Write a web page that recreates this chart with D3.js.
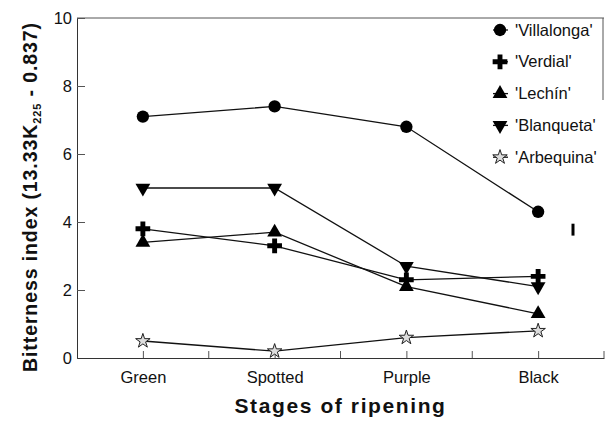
<!DOCTYPE html>
<html>
<head>
<meta charset="utf-8">
<script src="https://cdn.jsdelivr.net/npm/d3@7"></script>
<style>
  body { margin: 0; background: #fff; }
  svg { display: block; font-family: "Liberation Sans", Arial, sans-serif; }
</style>
</head>
<body>
<svg id="chart" width="605" height="423"></svg>
<script>
// Bitterness index by ripening stage
const stages = ['Green', 'Spotted', 'Purple', 'Black'];
const varieties = ["'Villalonga'", "'Verdial'", "'Lechín'", "'Blanqueta'", "'Arbequina'"];
const villalonga = [7.1, 7.4, 6.8, 4.3];
const verdial    = [3.8, 3.3, 2.3, 2.4];
const lechin     = [3.4, 3.7, 2.1, 1.3];
const blanqueta  = [5.0, 5.0, 2.7, 2.1];
const arbequina  = [0.5, 0.2, 0.6, 0.8];
const yTicks = [0, 2, 4, 6, 8, 10];
const lsdBar = [3.6, 3.95]; // error bar shown at right

(function() {
  const series = [villalonga, verdial, lechin, blanqueta, arbequina];
  const svg = d3.select('#chart');
  const L = 77, R = 604, T = 18, B = 358;

  const x = d3.scalePoint().domain(stages).range([L, R]).padding(0.5);
  const y = d3.scaleLinear().domain([0, 10]).range([B, T]);

  // frame bits
  svg.append('line').attr('x1', L).attr('x2', R).attr('y1', T).attr('y2', T)
    .attr('stroke', '#555').attr('stroke-width', 1);
  svg.append('line').attr('x1', R - 1).attr('x2', R - 1).attr('y1', T).attr('y2', 100)
    .attr('stroke', '#555').attr('stroke-width', 1);

  // axes
  const ya = svg.append('g').attr('transform', `translate(${L},0)`)
    .call(d3.axisLeft(y).tickValues(yTicks).tickSize(-8).tickPadding(5));
  ya.select('.domain').attr('stroke', '#333');
  ya.selectAll('.tick line').attr('stroke', '#555');
  ya.selectAll('text').attr('font-size', 16.5).attr('fill', '#111')
    .attr('font-family', '"Liberation Sans", Arial, sans-serif');

  const xa = svg.append('g').attr('transform', `translate(0,${B})`)
    .call(d3.axisBottom(x).tickSize(-7).tickPadding(13).tickSizeOuter(0));
  xa.select('.domain').attr('stroke', '#333');
  xa.selectAll('.tick line').attr('stroke', '#555');
  xa.selectAll('text').attr('font-size', 16.5).attr('fill', '#111')
    .attr('font-family', '"Liberation Sans", Arial, sans-serif');
  // boundary ticks between stages
  const half = x.step() / 2;
  svg.append('g').selectAll('line').data(stages).join('line')
    .attr('x1', d => x(d) + half).attr('x2', d => x(d) + half)
    .attr('y1', B).attr('y2', B - 7).attr('stroke', '#555');

  // titles
  svg.append('text').attr('x', (L + R) / 2).attr('y', 413).attr('text-anchor', 'middle')
    .attr('font-size', 21).attr('font-weight', 'bold').attr('letter-spacing', 1.6)
    .attr('fill', '#111').text('Stages of ripening');
  const yt = svg.append('text').attr('transform', `translate(37,197) rotate(-90)`)
    .attr('text-anchor', 'middle').attr('font-size', 19.5).attr('font-weight', 'bold')
    .attr('letter-spacing', 0.9).attr('fill', '#111');
  yt.append('tspan').text('Bitterness index (13.33K');
  yt.append('tspan').attr('font-size', 11).attr('dy', 4).text('225');
  yt.append('tspan').attr('dy', -4).text(' - 0.837)');

  // markers
  const sym = [
    { t: d3.symbolCircle, s: 120, rot: 0, fill: '#000' },
    { t: d3.symbolCross, s: 120, rot: 0, fill: '#000' },
    { t: d3.symbolTriangle, s: 95, rot: 0, fill: '#000' },
    { t: d3.symbolTriangle, s: 95, rot: 180, fill: '#000' },
    { t: d3.symbolStar, s: 65, rot: 0, fill: '#ddd' }
  ];
  const line = d3.line().x((d, i) => x(stages[i])).y(d => y(d));

  series.forEach((vals, k) => {
    svg.append('path').attr('d', line(vals)).attr('fill', 'none')
      .attr('stroke', '#111').attr('stroke-width', 1.3);
  });
  series.forEach((vals, k) => {
    const m = sym[k];
    svg.append('g').selectAll('path').data(vals).join('path')
      .attr('d', d3.symbol().type(m.t).size(m.s))
      .attr('transform', (d, i) => `translate(${x(stages[i])},${y(d)}) rotate(${m.rot})`)
      .attr('fill', m.fill).attr('stroke', k === 4 ? '#222' : 'none').attr('stroke-width', 1);
  });

  // error bar
  svg.append('line').attr('x1', 573).attr('x2', 573)
    .attr('y1', y(lsdBar[0])).attr('y2', y(lsdBar[1]))
    .attr('stroke', '#000').attr('stroke-width', 3);

  // legend
  const lg = svg.append('g');
  varieties.forEach((name, k) => {
    const m = sym[k];
    const yy = 30 + k * 31.8;
    lg.append('line').attr('x1', 493).attr('x2', 508).attr('y1', yy).attr('y2', yy)
      .attr('stroke', '#111').attr('stroke-width', 1.3);
    lg.append('path').attr('d', d3.symbol().type(m.t).size(m.s))
      .attr('transform', `translate(500,${yy}) rotate(${m.rot})`)
      .attr('fill', m.fill).attr('stroke', k === 4 ? '#222' : 'none');
    lg.append('text').attr('x', 515).attr('y', yy + 5.5).attr('font-size', 16.5)
      .attr('fill', '#111').text(name);
  });
})();
</script>
</body>
</html>
